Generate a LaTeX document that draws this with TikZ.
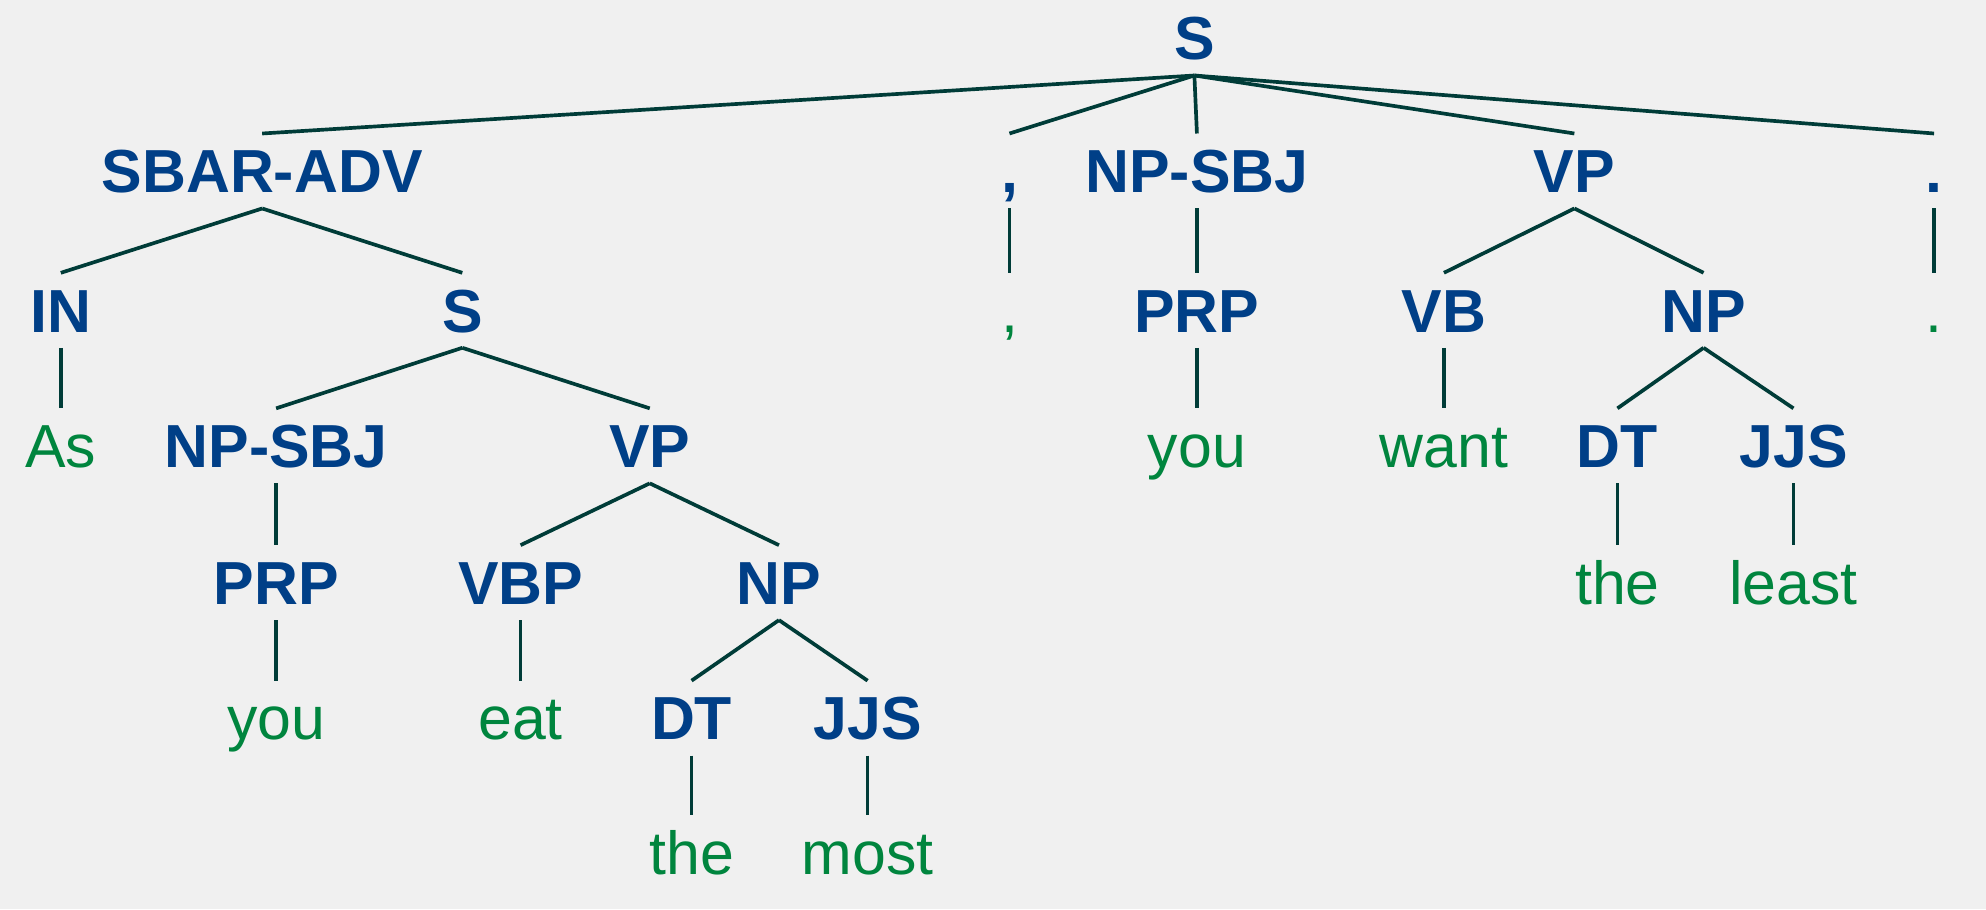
\documentclass[tikz,border=0pt]{standalone}
\usepackage{fontspec}
\setmainfont{Liberation Sans}
\definecolor{labblue}{RGB}{0,63,135}
\definecolor{wordgreen}{RGB}{0,133,62}
\definecolor{linecol}{RGB}{0,60,56}
\definecolor{bgcol}{RGB}{240,240,240}
\begin{document}
\begin{tikzpicture}[x=0.5pt,y=-0.5pt,
  lab/.style={font=\fontsize{24}{24}\selectfont\bfseries, text=labblue, text height=17.2pt, text depth=0pt, inner xsep=0pt, inner ysep=6pt},
  wrd/.style={font=\fontsize{24}{24}\selectfont, text=wordgreen, text height=17.2pt, text depth=0pt, inner xsep=0pt, inner ysep=6pt},
  edge/.style={draw=linecol, line width=1.45pt}]
\fill[bgcol] (0,0) rectangle (1568,718);
\useasboundingbox (0,0) rectangle (1568,718);
% row 0
\node[lab] (root) at (943,30) {S};
% row 1
\node[lab] (sbar) at (207,135) {SBAR-ADV};
\node[lab] (c1) at (797,135) {,};
\node[lab] (np1) at (945,135) {NP-SBJ};
\node[lab] (vp1) at (1243,135) {VP};
\node[lab] (p1) at (1527,135) {.};
% row 2
\node[lab] (in) at (48,245) {IN};
\node[lab] (s2) at (365,245) {S};
\node[wrd] (c1w) at (797,245) {,};
\node[lab] (prp1) at (945,245) {PRP};
\node[lab] (vb) at (1140,245) {VB};
\node[lab] (np2) at (1345,245) {NP};
\node[wrd] (p1w) at (1527,245) {.};
% row 3
\node[wrd] (as) at (48,352) {As};
\node[lab] (np3) at (218,352) {NP-SBJ};
\node[lab] (vp2) at (513,352) {VP};
\node[wrd] (you1) at (945,352) {you};
\node[wrd] (want) at (1140,352) {want};
\node[lab] (dt1) at (1277,352) {DT};
\node[lab] (jjs1) at (1416,352) {JJS};
% row 4
\node[lab] (prp2) at (218,460) {PRP};
\node[lab] (vbp) at (411,460) {VBP};
\node[lab] (np4) at (615,460) {NP};
\node[wrd] (the1) at (1277,460) {the};
\node[wrd] (least) at (1416,460) {least};
% row 5
\node[wrd] (you2) at (218,567) {you};
\node[wrd] (eat) at (411,567) {eat};
\node[lab] (dt2) at (546,567) {DT};
\node[lab] (jjs2) at (685,567) {JJS};
% row 6
\node[wrd] (the2) at (546,673) {the};
\node[wrd] (most) at (685,673) {most};
% edges
\foreach \p/\c in {root/sbar, root/c1, root/np1, root/vp1, root/p1,
  sbar/in, sbar/s2, c1/c1w, np1/prp1, vp1/vb, vp1/np2, p1/p1w,
  in/as, s2/np3, s2/vp2, prp1/you1, vb/want, np2/dt1, np2/jjs1,
  np3/prp2, vp2/vbp, vp2/np4, dt1/the1, jjs1/least,
  prp2/you2, vbp/eat, np4/dt2, np4/jjs2,
  dt2/the2, jjs2/most}
  \draw[edge] (\p.south) -- (\c.north);
\end{tikzpicture}
\end{document}
